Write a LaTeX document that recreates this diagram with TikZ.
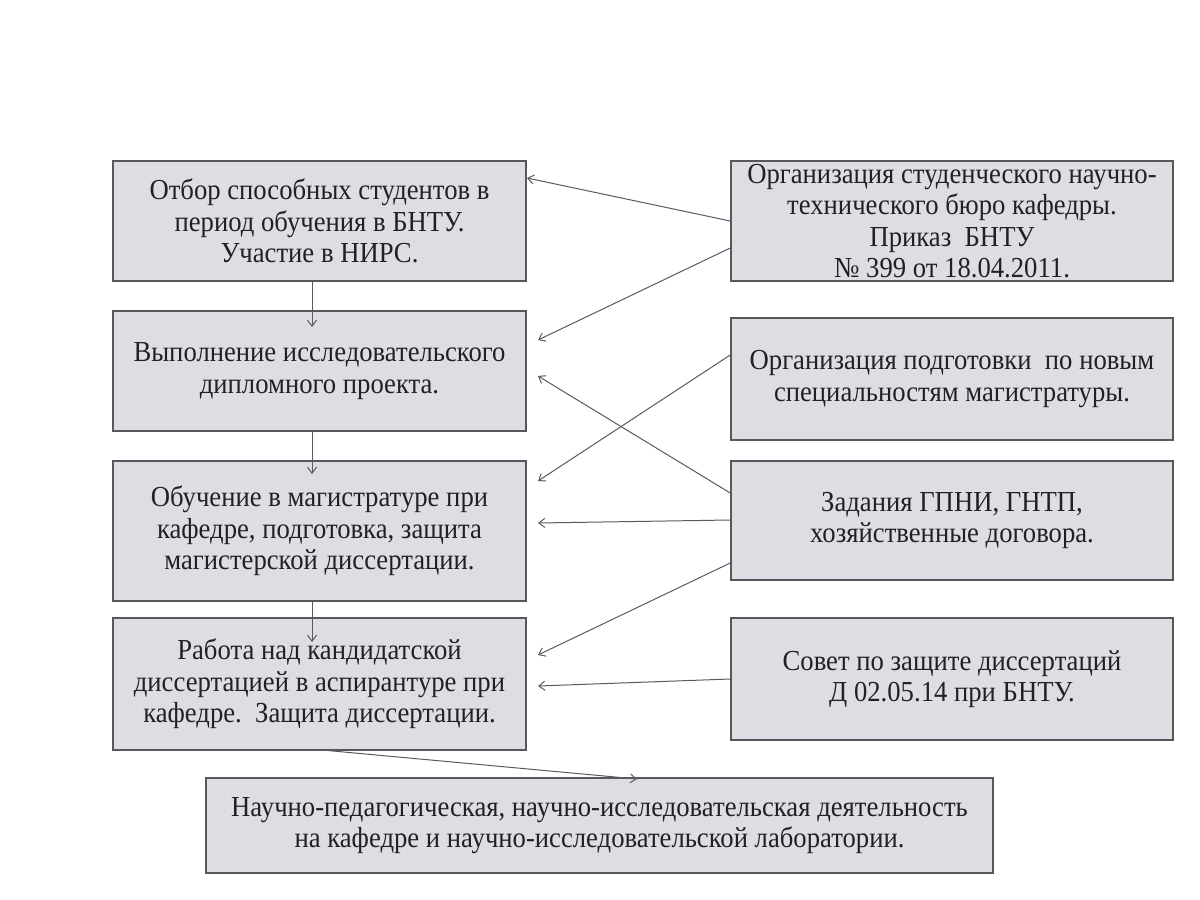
\documentclass[tikz,border=0pt]{standalone}
\usepackage{fontspec}
\setmainfont{Liberation Serif}[FakeStretch=0.92]
\usetikzlibrary{arrows.meta}
\definecolor{boxfill}{RGB}{221,222,228}
\definecolor{boxline}{RGB}{88,88,92}
\definecolor{arrline}{RGB}{90,90,95}
\definecolor{txt}{RGB}{35,32,35}
\begin{document}
\begin{tikzpicture}[x=1pt,y=-1pt,
  box/.style={draw=boxline,line width=1.5pt,fill=boxfill,inner sep=0pt,align=center,
    font=\fontsize{29}{31.5}\selectfont,text=txt},
  arr/.style={draw=arrline,line width=1pt,-{Straight Barb[length=6pt,width=9pt]}}]
\useasboundingbox (0,0) rectangle (1200,900);
% left column
\node[box,minimum width=413pt,minimum height=120pt] (A) at (319.5,221)
  {Отбор способных студентов в\\период обучения в БНТУ.\\Участие в НИРС.};
\node[box,minimum width=413pt,minimum height=120pt] (B) at (319.5,371)
  {Выполнение исследовательского\\дипломного проекта.};
\node[box,minimum width=413pt,minimum height=140pt] (C) at (319.5,531)
  {Обучение в магистратуре при\\кафедре, подготовка, защита\\магистерской диссертации.};
\node[box,minimum width=413pt,minimum height=132pt] (D) at (319.5,684)
  {Работа над кандидатской\\диссертацией в аспирантуре при\\кафедре.\ \ Защита диссертации.};
\node[box,minimum width=787pt,minimum height=95pt] (E) at (599.5,825.5)
  {Научно-педагогическая, научно-исследовательская деятельность\\на кафедре и научно-исследовательской лаборатории.};
% right column
\node[box,minimum width=442pt,minimum height=120pt] (R1) at (952,221)
  {Организация студенческого научно-\\технического бюро кафедры.\\Приказ\ \ БНТУ\\№ 399 от 18.04.2011.};
\node[box,minimum width=442pt,minimum height=122pt] (R2) at (952,379)
  {Организация подготовки\ \ по новым\\специальностям магистратуры.};
\node[box,minimum width=442pt,minimum height=119pt] (R3) at (952,520.5)
  {Задания ГПНИ, ГНТП,\\хозяйственные договора.};
\node[box,minimum width=442pt,minimum height=122pt] (R4) at (952,679)
  {Совет по защите диссертаций\\Д 02.05.14 при БНТУ.};
% arrow tips
\coordinate (tB) at (312,327);
\coordinate (tC) at (312,474);
\coordinate (tD) at (312,642);
\coordinate (sE) at (322,750);
\coordinate (tE) at (637,779);
\coordinate (tA1) at (527,178);
\coordinate (tB1) at (538,340);
\coordinate (tC2) at (538,481);
\coordinate (tB3) at (538,376);
\coordinate (tC3) at (538,523);
\coordinate (tD3) at (538,655);
\coordinate (tD4) at (538,686);
% vertical arrows
\draw[arr] (A.south -| tB) -- (tB);
\draw[arr] (B.south -| tC) -- (tC);
\draw[arr] (C.south -| tD) -- (tD);
\draw[arr] (sE) -- (tE);
% from right boxes
\draw[arr] (R1.west) -- (tA1);
\draw[arr] ([yshift=-27pt]R1.west) -- (tB1);
\draw[arr] ([yshift=24pt]R2.west) -- (tC2);
\draw[arr] ([yshift=27.5pt]R3.west) -- (tB3);
\draw[arr] ([yshift=0.5pt]R3.west) -- (tC3);
\draw[arr] ([yshift=-42.5pt]R3.west) -- (tD3);
\draw[arr] (R4.west) -- (tD4);
\end{tikzpicture}
\end{document}
